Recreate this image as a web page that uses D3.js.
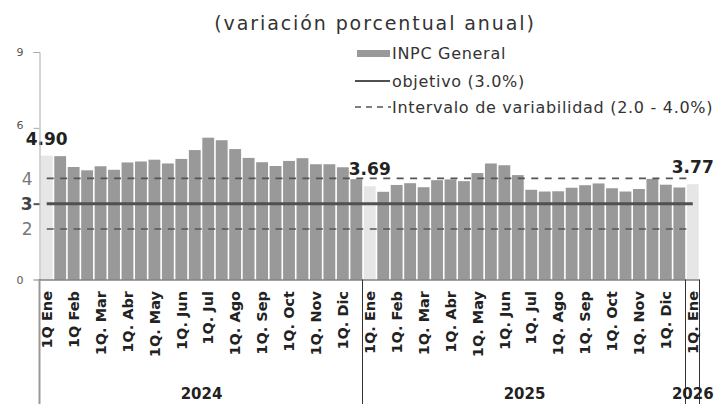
<!DOCTYPE html>
<html>
<head>
<meta charset="utf-8">
<script src="https://cdn.jsdelivr.net/npm/d3@7"></script>
<style>
	body { margin: 0; background: #fff; }
	svg { font-family: "DejaVu Sans", sans-serif; }
</style>
</head>
<body>
<div id="chart"></div>
<script>

var w = 714,
	h = 404;

// quincenas, only the 1Q gets a label
var labels = ["1Q Ene", "", "1Q Feb", "", "1Q. Mar", "", "1Q. Abr", "", "1Q. May", "", "1Q. Jun", "",
	"1Q. Jul", "", "1Q. Ago", "", "1Q. Sep", "", "1Q. Oct", "", "1Q. Nov", "", "1Q. Dic", "",
	"1Q. Ene", "", "1Q. Feb", "", "1Q. Mar", "", "1Q. Abr", "", "1Q. May", "", "1Q. Jun", "",
	"1Q. Jul", "", "1Q. Ago", "", "1Q. Sep", "", "1Q. Oct", "", "1Q. Nov", "", "1Q. Dic", "",
	"1Q. Ene"];

var inpc = [4.90, 4.88, 4.45, 4.32, 4.48, 4.34, 4.63, 4.67, 4.74, 4.59, 4.77, 5.12,
	5.61, 5.51, 5.16, 4.81, 4.64, 4.49, 4.69, 4.80, 4.56, 4.56, 4.44, 3.97,
	3.69, 3.47, 3.74, 3.81, 3.65, 3.93, 3.96, 3.89, 4.21, 4.59, 4.52, 4.13,
	3.55, 3.48, 3.49, 3.63, 3.73, 3.80, 3.61, 3.48, 3.58, 3.98, 3.75, 3.64,
	3.77];

var years = ["2024", "2025", "2026"];
var yearCounts = [24, 24, 1];

// bars drawn light and labelled
var highlight = [0, 24, 48];

var yTicks = [0, 2, 3, 4, 6, 9];
var objetivo = 3.0;
var intervalo = [2.0, 4.0];

var svg = d3.select("#chart")
	.append("svg")
	.attr("width", w)
	.attr("height", h);

var x = d3.scaleBand()
	.domain(d3.range(inpc.length))
	.range([40, 699.5])
	.paddingInner(0.12)
	.paddingOuter(0.06);

var y = d3.scaleLinear()
	.domain([0, 9])
	.range([279.5, 52]);

var step = x.step();
function cx(i) { return x(i) + x.bandwidth() / 2; }
function edge(i) { return x.range()[0] + i * step; }

// title (top line is cut off in the original)
svg.append("text")
	.attr("x", 375)
	.attr("y", 30)
	.attr("text-anchor", "middle")
	.attr("font-size", 19)
	.attr("letter-spacing", 1.9)
	.attr("fill", "#333")
	.text("(variación porcentual anual)");

// bars
svg.selectAll(".bar")
	.data(inpc)
	.enter()
	.append("rect")
	.attr("class", "bar")
	.attr("x", function(d, i) { return x(i); })
	.attr("width", x.bandwidth())
	.attr("y", function(d) { return y(d); })
	.attr("height", function(d) { return y(0) - y(d); })
	.attr("fill", function(d, i) {
		return highlight.indexOf(i) >= 0 ? "#e6e6e6" : "#999999";
	});

// intervalo de variabilidad
var x1 = cx(0), x2 = cx(inpc.length - 1);
svg.selectAll(".band")
	.data(intervalo)
	.enter()
	.append("line")
	.attr("class", "band")
	.attr("x1", x1)
	.attr("x2", x2)
	.attr("y1", function(d) { return y(d); })
	.attr("y2", function(d) { return y(d); })
	.attr("stroke", "#555")
	.attr("stroke-width", 1.6)
	.attr("stroke-dasharray", (step * 0.52) + "," + (step * 0.48));

// objetivo
svg.append("line")
	.attr("x1", x1)
	.attr("x2", x2)
	.attr("y1", y(objetivo))
	.attr("y2", y(objetivo))
	.attr("stroke", "#505050")
	.attr("stroke-width", 3);

// data labels
svg.selectAll(".dlabel")
	.data(highlight)
	.enter()
	.append("text")
	.attr("class", "dlabel")
	.attr("x", function(i) { return cx(i); })
	.attr("y", function(i) { return y(inpc[i]) - 11; })
	.attr("text-anchor", "middle")
	.attr("font-size", 17)
	.attr("font-weight", "bold")
	.attr("fill", "#222")
	.text(function(i) { return inpc[i].toFixed(2); });

// y axis
var yAxis = svg.append("g")
	.attr("transform", "translate(39.5,0)")
	.call(d3.axisLeft(y).tickValues(yTicks).tickSize(6).tickFormat(d3.format("d")));
yAxis.select(".domain").attr("stroke", "#aaa");
yAxis.selectAll(".tick line")
	.attr("stroke", function(d) { return d == 3 ? "#555" : "#aaa"; })
	.attr("stroke-width", function(d) { return d == 3 ? 2 : 1; })
	.attr("opacity", function(d) { return (d == 2 || d == 4) ? 0 : 1; });
yAxis.selectAll(".tick text")
	.attr("font-family", "DejaVu Sans, sans-serif")
	.attr("font-size", function(d) { return (d == 0 || d == 6 || d == 9) ? 11 : 17; })
	.attr("x", function(d) { return (d == 0 || d == 6 || d == 9) ? -16 : -7; })
	.attr("dy", function(d) { return d == 6 ? "0.1em" : "0.35em"; })
	.attr("fill", function(d) { return d == 3 ? "#444" : (d == 2 || d == 4 ? "#777" : "#555"); })
	.attr("font-weight", function(d) { return d == 3 ? "bold" : "normal"; });

// x axis line
svg.append("line")
	.attr("x1", 39)
	.attr("x2", 699.5)
	.attr("y1", y(0) + 0.5)
	.attr("y2", y(0) + 0.5)
	.attr("stroke", "#444");

// category labels
svg.selectAll(".cat")
	.data(labels)
	.enter()
	.append("text")
	.attr("class", "cat")
	.attr("transform", function(d, i) {
		return "translate(" + cx(i) + ",291) rotate(-90)";
	})
	.attr("dy", "0.36em")
	.attr("text-anchor", "end")
	.attr("font-size", 14.5)
	.attr("font-weight", "bold")
	.attr("fill", "#222")
	.text(function(d) { return d; });

// year groups
var start = 0, bounds = [0];
for (var i = 0; i < yearCounts.length; i++) {
	start += yearCounts[i];
	bounds.push(start);
}
svg.selectAll(".sep")
	.data(bounds)
	.enter()
	.append("line")
	.attr("class", "sep")
	.attr("x1", function(d) { return Math.round(edge(d)) - 0.5; })
	.attr("x2", function(d) { return Math.round(edge(d)) - 0.5; })
	.attr("y1", y(0))
	.attr("y2", h)
	.attr("stroke", function(d, i) { return i == 0 ? "#999" : "#333"; })
	.attr("stroke-width", function(d, i) { return i == 0 ? 2 : 1; });

svg.selectAll(".year")
	.data(years)
	.enter()
	.append("text")
	.attr("class", "year")
	.attr("x", function(d, i) { return (edge(bounds[i]) + edge(bounds[i + 1])) / 2; })
	.attr("y", 399)
	.attr("text-anchor", "middle")
	.attr("font-size", 15)
	.attr("font-weight", "bold")
	.attr("fill", "#222")
	.text(function(d) { return d; });

// legend
var lg = svg.append("g");
lg.append("rect")
	.attr("x", 357).attr("y", 50)
	.attr("width", 33).attr("height", 7)
	.attr("fill", "#999");
lg.append("line")
	.attr("x1", 355).attr("x2", 390)
	.attr("y1", 81).attr("y2", 81)
	.attr("stroke", "#505050").attr("stroke-width", 2.2);
lg.append("line")
	.attr("x1", 355).attr("x2", 391)
	.attr("y1", 107).attr("y2", 107)
	.attr("stroke", "#555").attr("stroke-width", 1.4)
	.attr("stroke-dasharray", "6,5");

var legendText = ["INPC General", "objetivo (3.0%)", "Intervalo de variabilidad (2.0 - 4.0%)"];
var legendY = [59, 87, 113];
lg.selectAll(".ltext")
	.data(legendText)
	.enter()
	.append("text")
	.attr("class", "ltext")
	.attr("x", 392)
	.attr("y", function(d, i) { return legendY[i]; })
	.attr("font-size", 16)
	.attr("letter-spacing", 0.7)
	.attr("fill", "#333")
	.text(function(d) { return d; });

</script>
</body>
</html>
